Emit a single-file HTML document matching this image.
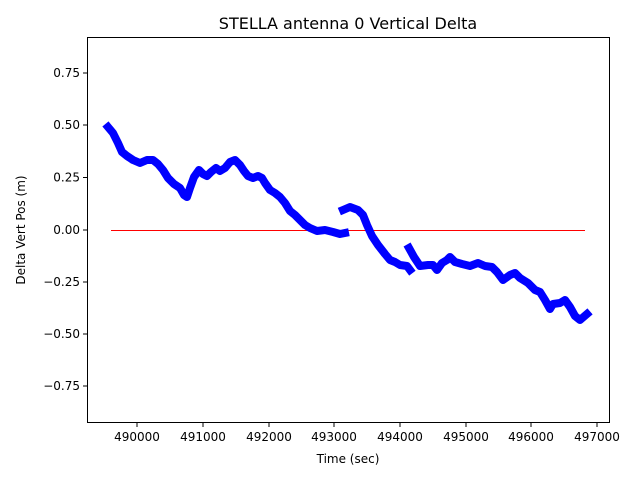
<!DOCTYPE html>
<html><head><style>body{margin:0;background:#fff}svg{display:block;font-family:"DejaVu Sans","Liberation Sans",sans-serif}</style></head><body>
<svg width="640" height="480" xmlns="http://www.w3.org/2000/svg">
<rect width="640" height="480" fill="#fff"/>
<text x="348" y="29" font-size="16" text-anchor="middle">STELLA antenna 0 Vertical Delta</text>
<line x1="111" y1="230.5" x2="585" y2="230.5" stroke="#f00" stroke-width="1"/>
<g fill="none" stroke="#0000ff" stroke-width="8" stroke-linejoin="round" stroke-linecap="square">
<polyline points="108,127 113,133 118,143 122,152 127,156 133,160 140,163 147,160 153,160 158,164 163,170 168,178 174,184 180,188 184,195 187,197 190,188 194,177 199,170 203,174 207,176 211,172 216,168 220,171 225,168 230,162 235,160 240,165 244,171 248,176 253,178 258,176 262,178 265,183 270,190 275,193 280,197 285,203 290,211 295,215 300,220 305,225 310,228 317,231 325,230 333,232 340,234 345,233"/>
<polyline points="343,210 350,207 358,210 363,215 367,225 372,236 378,245 385,254 390,260 395,262 400,265 407,266 410,270"/>
<polyline points="409,248 414,257 420,266 428,265 433,265 437,270 442,263 447,260 450,257 455,262 462,264 470,266 478,263 485,266 492,267 497,272 503,280 510,275 515,273 520,278 528,283 535,290 540,292 545,300 550,309 553,304 560,303 565,300 570,307 575,316 580,320 587,314"/>
</g>
<rect x="87.5" y="37.5" width="522" height="385" fill="none" stroke="#000" stroke-width="1"/>
<g font-size="12" text-anchor="end">
<g stroke="#000"><line x1="83" y1="73" x2="87" y2="73"/><line x1="83" y1="125" x2="87" y2="125"/><line x1="83" y1="177.5" x2="87" y2="177.5"/><line x1="83" y1="230" x2="87" y2="230"/><line x1="83" y1="282" x2="87" y2="282"/><line x1="83" y1="334" x2="87" y2="334"/><line x1="83" y1="386" x2="87" y2="386"/></g>
<text x="80" y="77">0.75</text><text x="80" y="129">0.50</text><text x="80" y="181.5">0.25</text><text x="80" y="234">0.00</text><text x="80" y="286">−0.25</text><text x="80" y="338">−0.50</text><text x="80" y="390">−0.75</text>
</g>
<g font-size="12" text-anchor="middle">
<g stroke="#000"><line x1="137" y1="422" x2="137" y2="427"/><line x1="203" y1="422" x2="203" y2="427"/><line x1="269" y1="422" x2="269" y2="427"/><line x1="334" y1="422" x2="334" y2="427"/><line x1="400" y1="422" x2="400" y2="427"/><line x1="466" y1="422" x2="466" y2="427"/><line x1="531" y1="422" x2="531" y2="427"/><line x1="597" y1="422" x2="597" y2="427"/></g>
<text x="137" y="441">490000</text><text x="203" y="441">491000</text><text x="269" y="441">492000</text><text x="334" y="441">493000</text><text x="400" y="441">494000</text><text x="466" y="441">495000</text><text x="531" y="441">496000</text><text x="597" y="441">497000</text>
<text x="348" y="463">Time (sec)</text>
<text transform="translate(25,230) rotate(-90)">Delta Vert Pos (m)</text>
</g>
</svg>
</body></html>
